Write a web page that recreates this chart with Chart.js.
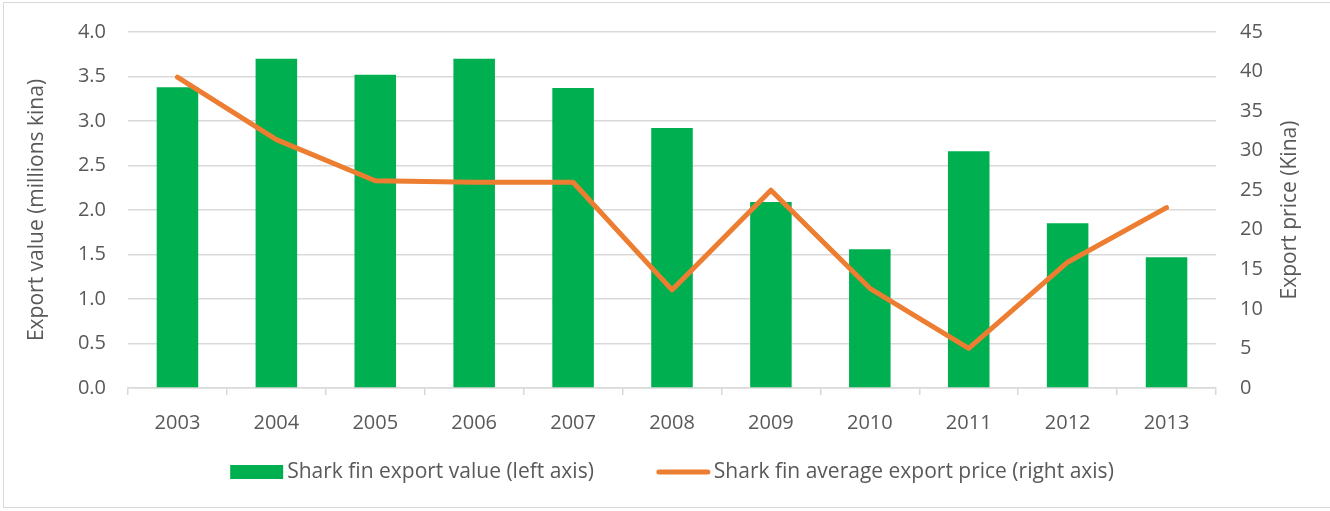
<!DOCTYPE html>
<html>
<head>
<meta charset="utf-8">
<script src="https://cdn.jsdelivr.net/npm/chart.js@4.4.1/dist/chart.umd.min.js"></script>
<style>
    html, body { margin: 0; padding: 0; background: #fff; }
    #frame {
        position: absolute;
        left: 3px; top: 2px;
        width: 1340px; height: 506px;
        border: 1px solid #d9d9d9;
        box-sizing: border-box;
    }
    #wrap { position: absolute; left: 0; top: 0; width: 1330px; height: 511px; }
</style>
</head>
<body>
<div id="frame"></div>
<div id="wrap"><canvas id="sharkFinChart"></canvas></div>
<script>
const years = ['2003', '2004', '2005', '2006', '2007', '2008', '2009', '2010', '2011', '2012', '2013'];
const exportValue = [3.38, 3.70, 3.52, 3.70, 3.37, 2.92, 2.09, 1.56, 2.66, 1.85, 1.47];
const exportPrice = [39.3, 31.4, 26.2, 26.0, 26.0, 12.4, 25.0, 12.6, 5.0, 15.9, 22.8];
const valueTicks = [0, 0.5, 1.0, 1.5, 2.0, 2.5, 3.0, 3.5, 4.0];
const priceTicks = [0, 5, 10, 15, 20, 25, 30, 35, 40, 45];

const textColor = '#595959';
const gridColor = '#d9d9d9';
const barColor = '#00b050';
const lineColor = '#ed7d31';
const fontFamily = '"Open Sans", sans-serif';

const tickFont = { size: 20, family: fontFamily };
const titleFont = { size: 21, family: fontFamily };

const legendItems = [
    { text: 'Shark fin export value (left axis)', color: barColor, kind: 'box' },
    { text: 'Shark fin average export price (right axis)', color: lineColor, kind: 'line' }
];

// right axis title reads bottom-to-top, so it is drawn here instead of by the scale
const rightTitle = {
    id: 'rightTitle',
    afterDraw(chart) {
        const c = chart.ctx;
        const area = chart.chartArea;
        c.save();
        c.translate(1290, (area.top + area.bottom) / 2);
        c.rotate(-Math.PI / 2);
        c.fillStyle = textColor;
        c.font = titleFont.size + 'px ' + fontFamily;
        c.textAlign = 'center';
        c.textBaseline = 'middle';
        c.fillText('Export price (Kina)', 0, 0);
        c.restore();
    }
};

// legend row under the axis: wide gap between the two entries
const bottomLegend = {
    id: 'bottomLegend',
    afterDraw(chart) {
        const c = chart.ctx;
        const area = chart.chartArea;
        const keyW = 53, keyGap = 4, itemGap = 63;
        c.save();
        c.font = titleFont.size + 'px ' + fontFamily;
        const widths = legendItems.map(it => keyW + keyGap + c.measureText(it.text).width);
        const total = widths.reduce((a, b) => a + b, 0) + itemGap * (legendItems.length - 1);
        let x = (area.left + area.right) / 2 - total / 2;
        const y = area.bottom + 84;
        legendItems.forEach((it, i) => {
            if (it.kind === 'box') {
                c.fillStyle = it.color;
                c.fillRect(x, y - 7, keyW, 14);
            } else {
                c.strokeStyle = it.color;
                c.lineWidth = 5;
                c.lineCap = 'round';
                c.beginPath();
                c.moveTo(x + 2, y);
                c.lineTo(x + keyW - 2, y);
                c.stroke();
            }
            c.fillStyle = textColor;
            c.textAlign = 'left';
            c.textBaseline = 'middle';
            c.fillText(it.text, x + keyW + keyGap, y);
            x += widths[i] + itemGap;
        });
        c.restore();
    }
};

const ctx = document.getElementById('sharkFinChart').getContext('2d');
const sharkFinChart = new Chart(ctx, {
    type: 'bar',
    data: {
        labels: years,
        datasets: [{
            type: 'line',
            label: 'Shark fin average export price (right axis)',
            data: exportPrice,
            yAxisID: 'yPrice',
            borderColor: lineColor,
            backgroundColor: lineColor,
            borderWidth: 5,
            borderCapStyle: 'round',
            borderJoinStyle: 'round',
            pointRadius: 0,
            tension: 0,
            order: 1
        },
        {
            label: 'Shark fin export value (left axis)',
            data: exportValue,
            yAxisID: 'yValue',
            backgroundColor: barColor,
            borderWidth: 0,
            categoryPercentage: 1,
            barPercentage: 0.42,
            order: 2
        }]
    },
    options: {
        responsive: true,
        maintainAspectRatio: false,
        animation: false,
        layout: {
            padding: { top: 32, left: 20, right: 10, bottom: 60 }
        },
        scales: {
            x: {
                grid: {
                    display: true,
                    offset: true,
                    drawOnChartArea: false,
                    drawTicks: true,
                    tickLength: 7,
                    color: gridColor,
                    lineWidth: 1.5
                },
                border: { display: true, color: gridColor, width: 1.5 },
                ticks: {
                    color: textColor,
                    font: tickFont,
                    padding: 16,
                    maxRotation: 0
                },
                afterFit: (scale) => { scale.height = 63; }
            },
            yValue: {
                position: 'left',
                min: 0,
                max: 4,
                afterBuildTicks: (scale) => {
                    scale.ticks = valueTicks.map(v => ({ value: v }));
                },
                // gap to the labels comes from an invisible tick mark,
                // tick padding would also push the plot top down
                ticks: {
                    color: textColor,
                    font: tickFont,
                    padding: 0,
                    callback: (v) => Number(v).toFixed(1)
                },
                grid: {
                    color: gridColor,
                    lineWidth: 1.5,
                    drawTicks: true,
                    tickLength: 22,
                    tickColor: 'rgba(0, 0, 0, 0)'
                },
                border: { display: false },
                title: {
                    display: true,
                    text: 'Export value (millions kina)',
                    color: textColor,
                    font: titleFont,
                    padding: { top: 4, bottom: 4 }
                },
                afterFit: (scale) => { scale.width = 108; }
            },
            yPrice: {
                position: 'right',
                min: 0,
                max: 45,
                afterBuildTicks: (scale) => {
                    scale.ticks = priceTicks.map(v => ({ value: v }));
                },
                ticks: {
                    color: textColor,
                    font: tickFont,
                    padding: 0
                },
                grid: {
                    drawOnChartArea: false,
                    drawTicks: true,
                    tickLength: 24,
                    tickColor: 'rgba(0, 0, 0, 0)'
                },
                border: { display: false },
                afterFit: (scale) => { scale.width = 104; }
            }
        },
        plugins: {
            tooltip: { enabled: false },
            legend: { display: false }
        }
    },
    plugins: [rightTitle, bottomLegend]
});
</script>
</body>
</html>
